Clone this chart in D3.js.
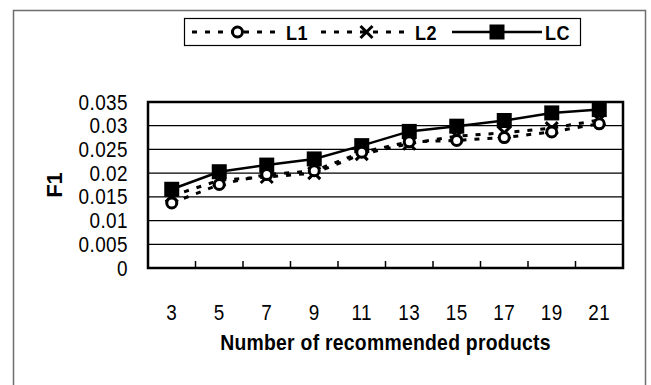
<!DOCTYPE html>
<html>
<head>
<meta charset="utf-8">
<script src="https://cdn.jsdelivr.net/npm/d3@7/dist/d3.min.js"></script>
<style>
  html, body { margin: 0; padding: 0; background: #fff; }
  svg { display: block; }
  text { font-family: "Liberation Sans", Arial, sans-serif; fill: #000; }
</style>
</head>
<body>
<svg id="chart" width="651" height="385"></svg>
<script>
// Number of recommended products (x categories)
const categories = [3, 5, 7, 9, 11, 13, 15, 17, 19, 21];
// F1 per method
const seriesL1 = [0.0137, 0.0176, 0.0197, 0.0205, 0.0244, 0.0266, 0.0269, 0.0275, 0.0287, 0.0304];
const seriesL2 = [0.0152, 0.0185, 0.0192, 0.0200, 0.0240, 0.0262, 0.0278, 0.0285, 0.0295, 0.0312];
const seriesLC = [0.0166, 0.0203, 0.0217, 0.0230, 0.0258, 0.0288, 0.0299, 0.0311, 0.0327, 0.0334];
const seriesNames = ["L1", "L2", "LC"];
const yTickValues = [0, 0.005, 0.01, 0.015, 0.02, 0.025, 0.03, 0.035];
const yTickLabels = ["0", "0.005", "0.01", "0.015", "0.02", "0.025", "0.03", "0.035"];

const svg = d3.select("#chart");
const plot = { left: 148, top: 102, right: 623, bottom: 268 };
const SX = 0.86; // horizontal squeeze for a condensed look

// squeeze text horizontally while keeping its anchor x in place
function narrow(sel, sx = SX) {
  sel.each(function () {
    const t = d3.select(this);
    const x0 = +t.attr("x") || 0;
    t.attr("x", x0 / sx).attr("transform", `scale(${sx},1)`);
  });
}

// outer chart frame
svg.append("rect")
  .attr("x", 13.5).attr("y", 10.5)
  .attr("width", 632).attr("height", 400)
  .attr("fill", "none").attr("stroke", "#6e6e6e").attr("stroke-width", 1.5);

const x = d3.scaleBand().domain(categories).range([plot.left, plot.right]).padding(0);
const y = d3.scaleLinear().domain([0, 0.035]).range([plot.bottom, plot.top]);
const cx = d => x(d) + x.bandwidth() / 2;

// horizontal gridlines
svg.append("g").selectAll("line").data(yTickValues.slice(1)).join("line")
  .attr("x1", plot.left).attr("x2", plot.right)
  .attr("y1", d => y(d)).attr("y2", d => y(d))
  .attr("stroke", "#000").attr("stroke-width", 1.2);

// y axis labels
const yAxis = d3.axisLeft(y).tickValues(yTickValues)
  .tickFormat((d, i) => yTickLabels[i]).tickSize(0).tickPadding(20);
const gy = svg.append("g").attr("transform", `translate(${plot.left},0)`).call(yAxis);
gy.select(".domain").remove();
gy.selectAll("text").attr("font-size", 22).attr("letter-spacing", 0.5)
  .style("font-family", '"Liberation Sans", Arial, sans-serif').call(narrow);

// x axis labels
const xAxis = d3.axisBottom(x).tickSize(0).tickPadding(36);
const gx = svg.append("g").attr("transform", `translate(0,${plot.bottom})`).call(xAxis);
gx.select(".domain").remove();
gx.selectAll("text").attr("font-size", 22).attr("letter-spacing", 0.5)
  .style("font-family", '"Liberation Sans", Arial, sans-serif').call(narrow);

// inward tick marks on category boundaries
svg.append("g").selectAll("line").data(categories.slice(1)).join("line")
  .attr("x1", d => x(d)).attr("x2", d => x(d))
  .attr("y1", plot.bottom).attr("y2", plot.bottom - 7)
  .attr("stroke", "#000").attr("stroke-width", 1.5);

// plot border
svg.append("rect")
  .attr("x", plot.left).attr("y", plot.top)
  .attr("width", plot.right - plot.left).attr("height", plot.bottom - plot.top)
  .attr("fill", "none").attr("stroke", "#000").attr("stroke-width", 2.5);

// axis titles
svg.append("text")
  .attr("x", (plot.left + plot.right) / 2).attr("y", 350)
  .attr("text-anchor", "middle").attr("font-size", 22).attr("font-weight", "bold")
  .attr("letter-spacing", 0.3)
  .text("Number of recommended products").call(narrow, 0.88);
svg.append("text")
  .attr("transform", `translate(62,${(plot.top + plot.bottom) / 2}) rotate(-90)`)
  .attr("text-anchor", "middle").attr("font-size", 22).attr("font-weight", "bold")
  .text("F1");

const line = d3.line().x((d, i) => cx(categories[i])).y(d => y(d));

const styles = {
  LC: { dash: null, width: 2.5 },
  L2: { dash: "5,8", width: 3 },
  L1: { dash: "5,8", width: 3 }
};

function marker(g, name, px, py) {
  if (name === "LC") {
    g.append("rect").attr("x", px - 7.5).attr("y", py - 7.5).attr("width", 15).attr("height", 15)
      .attr("fill", "#000");
  } else if (name === "L1") {
    g.append("circle").attr("cx", px).attr("cy", py).attr("r", 5)
      .attr("fill", "#fff").attr("stroke", "#000").attr("stroke-width", 3);
  } else {
    g.append("path").attr("d", `M${px - 6},${py - 6}L${px + 6},${py + 6}M${px - 6},${py + 6}L${px + 6},${py - 6}`)
      .attr("stroke", "#000").attr("stroke-width", 3).attr("fill", "none");
  }
}

const data = { L1: seriesL1, L2: seriesL2, LC: seriesLC };
["LC", "L2", "L1"].forEach(name => {
  const g = svg.append("g");
  g.append("path").datum(data[name]).attr("d", line)
    .attr("fill", "none").attr("stroke", "#000")
    .attr("stroke-width", styles[name].width)
    .attr("stroke-dasharray", styles[name].dash);
  data[name].forEach((v, i) => marker(g, name, cx(categories[i]), y(v)));
});

// legend
const legend = svg.append("g");
legend.append("rect").attr("x", 184.5).attr("y", 18.5).attr("width", 396).attr("height", 27)
  .attr("fill", "#fff").attr("stroke", "#000").attr("stroke-width", 1.2);
const legendItems = [
  { name: "L1", x0: 192, x1: 283 },
  { name: "L2", x0: 321, x1: 412 },
  { name: "LC", x0: 452, x1: 542 }
];
legendItems.forEach(it => {
  const ly = 32;
  legend.append("line").attr("x1", it.x0).attr("x2", it.x1).attr("y1", ly).attr("y2", ly)
    .attr("stroke", "#000").attr("stroke-width", styles[it.name].width)
    .attr("stroke-dasharray", styles[it.name].dash);
  marker(legend, it.name, (it.x0 + it.x1) / 2, ly);
  legend.append("text").attr("x", it.x1 + 3).attr("y", ly).attr("dy", "0.36em")
    .attr("font-size", 21).attr("font-weight", "bold").attr("letter-spacing", 0.5)
    .text(it.name).call(narrow);
});
</script>
</body>
</html>
